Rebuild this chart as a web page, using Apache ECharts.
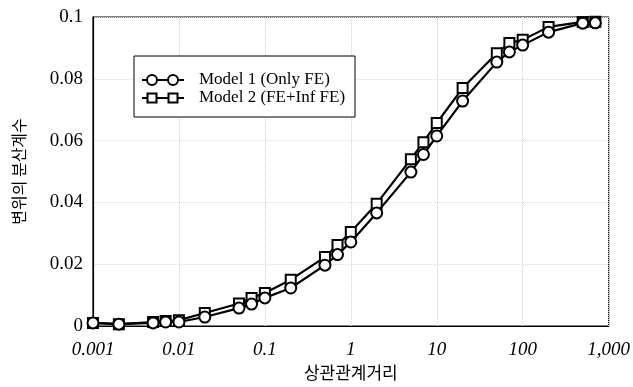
<!DOCTYPE html>
<html><head><meta charset="utf-8">
<script src="https://cdn.jsdelivr.net/npm/echarts@6/dist/echarts.min.js"></script>
<style>html,body{margin:0;padding:0;background:#fff}#c{width:633px;height:387px}</style>
</head><body><div id="c"></div>
<script>
var distances = [0.001,0.002,0.005,0.007,0.01,0.02,0.05,0.07,0.1,0.2,0.5,0.7,1,2,5,7,10,20,50,70,100,200,500,700];
var model1 = [0.0010,0.0006,0.0010,0.0013,0.0013,0.0029,0.0058,0.0071,0.0091,0.0123,0.0197,0.0231,0.0272,0.0366,0.0498,0.0555,0.0615,0.0728,0.0854,0.0887,0.0909,0.0951,0.0980,0.0981];
var model2 = [0.0010,0.0006,0.0013,0.0016,0.0019,0.0042,0.0073,0.0091,0.0107,0.0150,0.0223,0.0262,0.0304,0.0396,0.0540,0.0595,0.0657,0.0770,0.0883,0.0916,0.0926,0.0968,0.0984,0.0985];
var seriesNames = ['Model 1 (Only FE)','Model 2 (FE+Inf FE)'];
var xTickLabels = ['0.001','0.01','0.1','1','10','100','1,000'];
var yTickLabels = ['0','0.02','0.04','0.06','0.08','0.1'];
var xTitle = '상관관계거리';
var yTitle = '변위의 분산계수';

function pairs(xs, ys){ return xs.map(function(x,i){ return [x, ys[i]]; }); }

var chart = echarts.init(document.getElementById('c'));
var serif = '"Liberation Serif","DejaVu Serif",serif';
var kfont = '"Noto Sans CJK KR",sans-serif';

// legend drawn as graphic (line with two markers per entry)
var LG = {x:134, y:56, w:221, h:61, row1:80, row2:98, lx0:142, lx1:184, m1:152, m2:173, tx:199};
function legendIcon(rowY, shape){
  var els = [{type:'line',shape:{x1:LG.lx0,y1:rowY,x2:LG.lx1,y2:rowY},style:{stroke:'#000',lineWidth:2.2}}];
  [LG.m1, LG.m2].forEach(function(mx){
    if(shape==='circle'){
      els.push({type:'circle',shape:{cx:mx,cy:rowY,r:5},style:{fill:'#fff',stroke:'#000',lineWidth:2}});
    } else {
      els.push({type:'rect',shape:{x:mx-4.5,y:rowY-4.5,width:9,height:9},style:{fill:'#fff',stroke:'#000',lineWidth:2}});
    }
  });
  return els;
}
var graphics = [{type:'rect',shape:{x:LG.x,y:LG.y,width:LG.w,height:LG.h},style:{fill:'#fff',stroke:'#000',lineWidth:1},z:10}]
  .concat(legendIcon(LG.row1,'circle')).concat(legendIcon(LG.row2,'rect'))
  .concat([
    {type:'text',x:LG.tx,y:LG.row1,style:{text:seriesNames[0],font:'17px '+serif,fill:'#000',verticalAlign:'middle'}},
    {type:'text',x:LG.tx,y:LG.row2,style:{text:seriesNames[1],font:'17px '+serif,fill:'#000',verticalAlign:'middle'}}
  ]);
graphics.forEach(function(g){ if(g.z===undefined) g.z = 11; });

chart.setOption({
  animation:false,
  backgroundColor:'#fff',
  grid:{left:93,right:21,top:17,bottom:61,show:true,borderColor:'#000',borderWidth:1.2,containLabel:false},
  graphic:graphics,
  xAxis:{
    type:'log', logBase:10, min:0.001, max:1000,
    name:xTitle, nameLocation:'middle', nameGap:35,
    nameTextStyle:{fontFamily:kfont,fontSize:17,color:'#000'},
    axisLine:{show:true,lineStyle:{color:'#000',width:1.2}},
    axisTick:{show:false},
    axisLabel:{fontFamily:serif,fontSize:19,fontStyle:'italic',color:'#000',margin:14,
      formatter:function(v){ var i=Math.round(Math.log10(v))+3; return xTickLabels[i]||''; }},
    splitLine:{show:true,lineStyle:{color:'#d0d0d0',type:'dotted',width:1}}
  },
  yAxis:{
    type:'value', min:0, max:0.1, interval:0.02,
    name:yTitle, nameLocation:'middle', nameGap:66, nameRotate:90,
    nameTextStyle:{fontFamily:kfont,fontSize:16,color:'#000'},
    axisLine:{show:true,lineStyle:{color:'#000',width:1.2}},
    axisTick:{show:false},
    axisLabel:{fontFamily:serif,fontSize:19,color:'#000',margin:10,
      formatter:function(v){ var i=Math.round(v/0.02); return yTickLabels[i]; }},
    splitLine:{show:true,lineStyle:{color:'#dcdcdc',type:'dotted',width:1}}
  },
  series:[
    {name:seriesNames[0],type:'line',data:pairs(distances,model1),symbol:'circle',symbolSize:11,
     lineStyle:{color:'#000',width:2.2},itemStyle:{color:'#fff',borderColor:'#000',borderWidth:2},z:3},
    {name:seriesNames[1],type:'line',data:pairs(distances,model2),symbol:'rect',symbolSize:10,
     lineStyle:{color:'#000',width:2.2},itemStyle:{color:'#fff',borderColor:'#000',borderWidth:2},z:2}
  ]
});
</script></body></html>
